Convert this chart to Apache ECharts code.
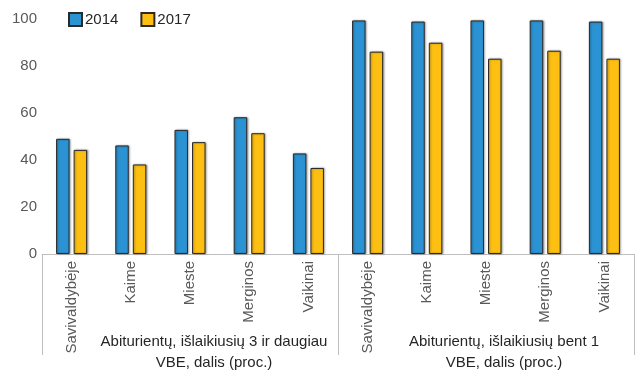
<!DOCTYPE html>
<html>
<head>
<meta charset="utf-8">
<script src="https://cdn.jsdelivr.net/npm/echarts@6/dist/echarts.min.js"></script>
<style>html,body{margin:0;padding:0;background:#fff}#c{width:643px;height:373px}</style>
</head>
<body>
<div id="c"></div>
<script>
const subCategories = ['Savivaldybėje', 'Kaime', 'Mieste', 'Merginos', 'Vaikinai'];
const groups = ['Abiturientų, išlaikiusių 3 ir daugiau\nVBE, dalis (proc.)', 'Abiturientų, išlaikiusių bent 1\nVBE, dalis (proc.)'];
const seriesNames = ['2014', '2017'];
const values2014 = [49.0, 46.2, 52.8, 58.2, 42.8, 99.4, 98.9, 99.4, 99.4, 98.9];
const values2017 = [44.3, 38.1, 47.6, 51.4, 36.6, 86.1, 89.9, 83.1, 86.5, 83.1];
const yTicks = [0, 20, 40, 60, 80, 100];

const categories = [];
groups.forEach(() => subCategories.forEach(s => categories.push(s)));
const catKeys = categories.map((c, i) => i + ':' + c);
const groupShift = [48, 36];

const FONT = '"Liberation Sans", Arial, sans-serif';
const GRAY = '#595959';
const barStyle = (color) => ({
  color: color, borderColor: '#2a2a2a', borderWidth: 1,
  shadowColor: 'rgba(0,0,0,0.35)', shadowBlur: 2, shadowOffsetX: 1, shadowOffsetY: 0
});

const chart = echarts.init(document.getElementById('c'));
chart.setOption({
  animation: false,
  textStyle: { fontFamily: FONT },
  legend: {
    left: 63, top: 7, itemWidth: 13, itemHeight: 13, itemGap: 22, icon: 'rect',
    textStyle: { fontSize: 15, color: '#262626', fontFamily: FONT, padding: [0, 0, 0, -2] },
    data: seriesNames
  },
  grid: { left: 42, right: 9, top: 19, bottom: 118 },
  xAxis: [
    {
      type: 'category', data: catKeys, gridIndex: 0,
      axisLine: { lineStyle: { color: '#bfbfbf', width: 1 } },
      axisTick: { show: false },
      axisLabel: {
        rotate: 90, interval: 0, margin: 7, fontSize: 15, color: GRAY, fontFamily: FONT,
        formatter: (v, i) => categories[i]
      }
    },
    {
      type: 'category', gridIndex: 0, position: 'bottom',
      data: groups.map((g, i) => ({ value: g, textStyle: { padding: [0, 0, 0, groupShift[i]] } })),
      axisLine: { show: false },
      axisTick: { show: true, length: 101, interval: 0, lineStyle: { color: '#bfbfbf', width: 1 } },
      axisLabel: { interval: 0, margin: 77, fontSize: 15, lineHeight: 21, color: '#262626', fontFamily: FONT }
    }
  ],
  yAxis: {
    type: 'value', min: yTicks[0], max: yTicks[yTicks.length - 1], interval: yTicks[1] - yTicks[0],
    axisLine: { show: false }, axisTick: { show: false }, splitLine: { show: false },
    axisLabel: { fontSize: 15, color: GRAY, margin: 5, fontFamily: FONT }
  },
  series: [
    { name: seriesNames[0], type: 'bar', xAxisIndex: 0, data: values2014, barWidth: 13.5, barGap: '30%', itemStyle: barStyle('#2b93d3') },
    { name: seriesNames[1], type: 'bar', xAxisIndex: 0, data: values2017, barWidth: 13.5, barGap: '30%', itemStyle: barStyle('#fdbf12') }
  ]
});
</script>
</body>
</html>
